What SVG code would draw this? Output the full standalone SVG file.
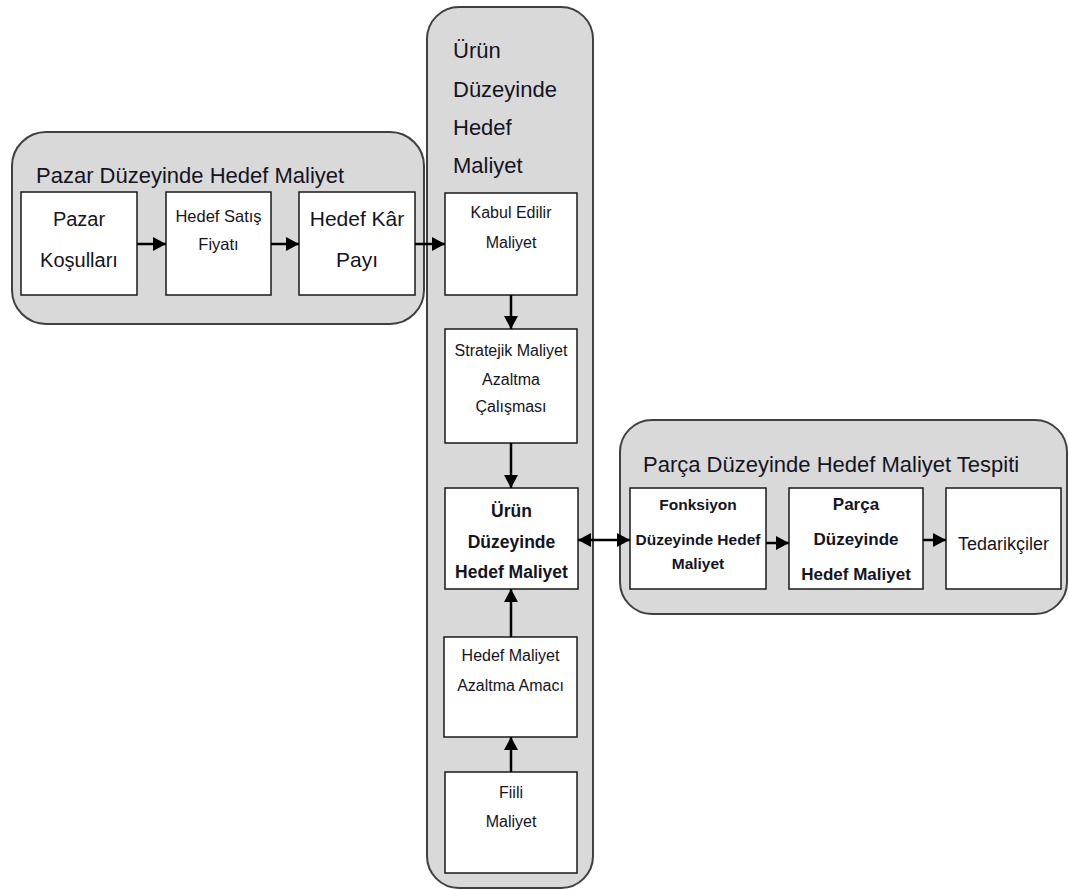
<svg xmlns="http://www.w3.org/2000/svg" width="1069" height="890" viewBox="0 0 1069 890">
<defs>
<style>
.cont{fill:#d9d9d9;stroke:#404040;stroke-width:2}
.box{fill:#ffffff;stroke:#1a1a1a;stroke-width:1.5}
text{font-family:"Liberation Sans",Arial,sans-serif;fill:#141422}
.c{text-anchor:middle}
.t{font-size:22px}
.l{font-size:20px}
.s{font-size:16px}
.b{font-weight:bold}
.conn{stroke:#000;stroke-width:2.5;fill:none}
</style>
<marker id="ah" markerUnits="userSpaceOnUse" markerWidth="13" markerHeight="14" viewBox="0 0 13 14" refX="13" refY="7" orient="auto-start-reverse">
<path d="M0,0 L13,7 L0,14 Z" fill="#000"/>
</marker>
</defs>
<rect width="1069" height="890" fill="#ffffff"/>

<g id="pazar-container">
<rect class="cont" x="12" y="132" width="412" height="192" rx="34"/>
<text class="t" x="36" y="183">Pazar Düzeyinde Hedef Maliyet</text>
</g>
<g id="urun-container">
<rect class="cont" x="427" y="7" width="166" height="881" rx="32"/>
<text class="t" x="453" y="58">Ürün</text>
<text class="t" x="453" y="97">Düzeyinde</text>
<text class="t" x="453" y="135">Hedef</text>
<text class="t" x="453" y="173">Maliyet</text>
</g>
<g id="parca-container">
<rect class="cont" x="620" y="420" width="447" height="194" rx="32"/>
<text class="t" x="643" y="472">Parça Düzeyinde Hedef Maliyet Tespiti</text>
</g>

<g id="pazar-kosullari">
<rect class="box" x="21" y="192" width="116" height="103"/>
<text class="l c" x="79" y="226">Pazar</text>
<text class="l c" x="79" y="267">Koşulları</text>
</g>
<g id="hedef-satis-fiyati">
<rect class="box" x="166" y="192" width="105" height="103"/>
<text class="c" style="font-size:16.5px" x="218.5" y="222">Hedef Satış</text>
<text class="c" style="font-size:16.5px" x="218.5" y="250">Fiyatı</text>
</g>
<g id="hedef-kar-payi">
<rect class="box" x="299" y="192" width="116" height="103"/>
<text class="c" style="font-size:21px" x="357" y="226">Hedef Kâr</text>
<text class="c" style="font-size:21px" x="357" y="267">Payı</text>
</g>

<g id="kabul-edilir-maliyet">
<rect class="box" x="445" y="193" width="132" height="102"/>
<text class="s c" x="511" y="218">Kabul Edilir</text>
<text class="s c" x="511" y="248">Maliyet</text>
</g>
<g id="stratejik-maliyet">
<rect class="box" x="445" y="329" width="132" height="114"/>
<text class="s c" x="511" y="356">Stratejik Maliyet</text>
<text class="s c" x="511" y="385">Azaltma</text>
<text class="s c" x="511" y="412">Çalışması</text>
</g>
<g id="urun-duzeyinde-hedef-maliyet">
<rect class="box" x="445" y="488" width="133" height="101"/>
<text class="b c" style="font-size:17.5px" x="511.5" y="517">Ürün</text>
<text class="b c" style="font-size:17.5px" x="511.5" y="548">Düzeyinde</text>
<text class="b c" style="font-size:17.5px" x="511.5" y="578">Hedef Maliyet</text>
</g>
<g id="hedef-maliyet-azaltma-amaci">
<rect class="box" x="444" y="637" width="133" height="100"/>
<text class="s c" x="510.5" y="661">Hedef Maliyet</text>
<text class="s c" x="510.5" y="691">Azaltma Amacı</text>
</g>
<g id="fiili-maliyet">
<rect class="box" x="445" y="772" width="132" height="101"/>
<text class="s c" x="511" y="798">Fiili</text>
<text class="s c" x="511" y="827">Maliyet</text>
</g>

<g id="fonksiyon-duzeyinde-hedef-maliyet">
<rect class="box" x="630" y="488" width="136" height="101"/>
<text class="b c" style="font-size:15.5px" x="698" y="510">Fonksiyon</text>
<text class="b c" style="font-size:15.5px" x="698" y="545">Düzeyinde Hedef</text>
<text class="b c" style="font-size:15.5px" x="698" y="569">Maliyet</text>
</g>
<g id="parca-duzeyinde-hedef-maliyet">
<rect class="box" x="789" y="488" width="134" height="101"/>
<text class="b c" style="font-size:17px" x="856" y="510">Parça</text>
<text class="b c" style="font-size:17px" x="856" y="545">Düzeyinde</text>
<text class="b c" style="font-size:17px" x="856" y="580">Hedef Maliyet</text>
</g>
<g id="tedarikciler">
<rect class="box" x="946" y="488" width="115" height="101"/>
<text class="c" style="font-size:18px" x="1003.5" y="550">Tedarikçiler</text>
</g>

<g id="connectors">
<line class="conn" x1="137" y1="244" x2="166" y2="244" marker-end="url(#ah)"/>
<line class="conn" x1="271" y1="244" x2="299" y2="244" marker-end="url(#ah)"/>
<line class="conn" x1="415" y1="244" x2="445" y2="244" marker-end="url(#ah)"/>
<line class="conn" x1="511" y1="295" x2="511" y2="329" marker-end="url(#ah)"/>
<line class="conn" x1="511" y1="443" x2="511" y2="488" marker-end="url(#ah)"/>
<line class="conn" x1="511" y1="637" x2="511" y2="589" marker-end="url(#ah)"/>
<line class="conn" x1="511" y1="772" x2="511" y2="737" marker-end="url(#ah)"/>
<line class="conn" x1="578" y1="540" x2="630" y2="540" marker-start="url(#ah)" marker-end="url(#ah)"/>
<line class="conn" x1="766" y1="543" x2="789" y2="543" marker-end="url(#ah)"/>
<line class="conn" x1="923" y1="540" x2="946" y2="540" marker-end="url(#ah)"/>
</g>
</svg>
